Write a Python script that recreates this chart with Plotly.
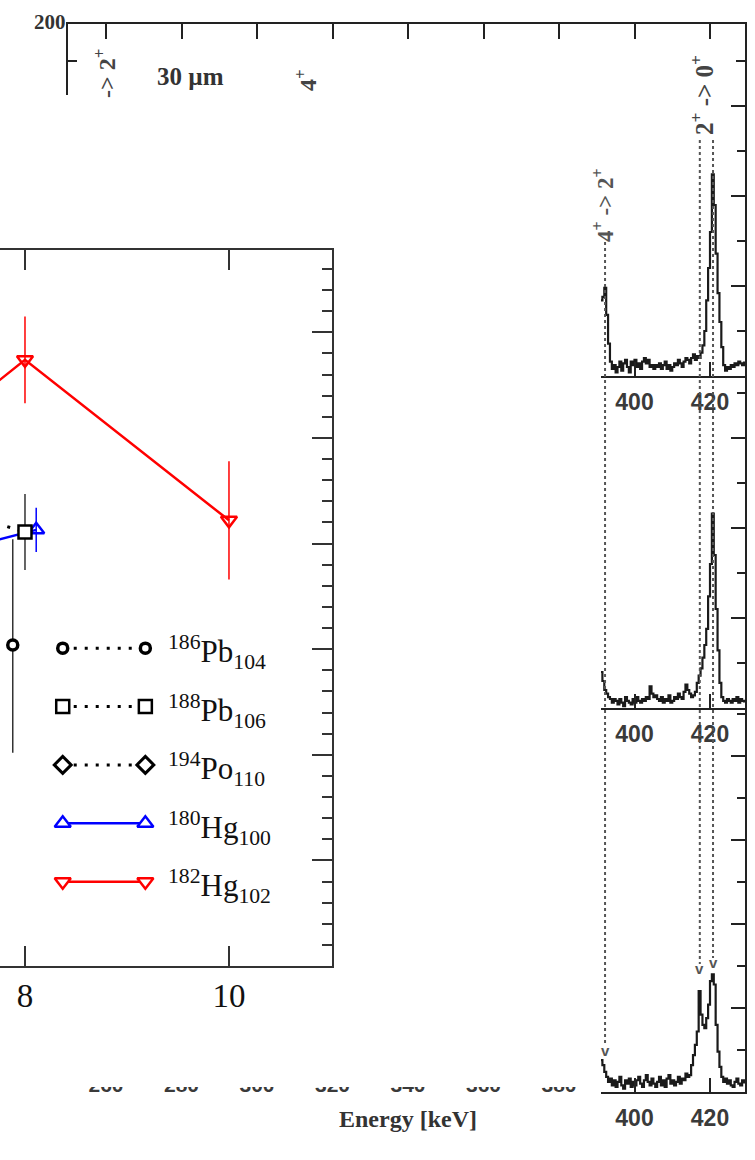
import plotly.graph_objects as go

W, H = 755, 1160
def fx(p):
    return p / W
def fy(p):
    return 1 - p / H

# ---------------- inset: data ----------------
hg182_x = [7.0, 8.0, 10.0]
hg182_y = [4.97, 5.74, 4.22]
hg182_err = [0.40, 0.41, 0.56]

hg180_x = [7.0, 8.11]
hg180_y = [3.85, 4.13]
hg180_err = [0.20, 0.21]

pb188_x = [7.0, 8.0]
pb188_y = [4.40, 4.11]
pb188_err = [0.30, 0.36]

pb186_x = [7.88]
pb186_y = [3.04]
pb186_err_plus = [1.00]
pb186_err_minus = [1.02]

po194_x = []
po194_y = []

inset_xticks = [8, 10]
legend_labels = ["<sup>186</sup>Pb<sub>104</sub>", "<sup>188</sup>Pb<sub>106</sub>",
                 "<sup>194</sup>Po<sub>110</sub>", "<sup>180</sup>Hg<sub>100</sub>",
                 "<sup>182</sup>Hg<sub>102</sub>"]

# ---------------- background spectra: data ----------------
bin_start, bin_width = 391.0, 0.5
counts_panel1 = [42, 44, 49, 34, 18, 8, 4, 6, 2, 5,
                 8, 3, 7, 9, 5, 2, 8, 6, 9, 5,
                 7, 4, 8, 10, 7, 9, 5, 6, 4, 6,
                 5, 7, 4, 6, 8, 4, 6, 3, 5, 7,
                 6, 9, 7, 5, 8, 10, 9, 7, 10, 12,
                 9, 11, 10, 13, 17, 25, 42, 60, 80, 112,
                 95, 68, 46, 30, 16, 6, 3, 5, 4, 6,
                 5, 7, 6, 8, 7, 6, 8]
counts_panel2 = [20, 15, 10, 8, 6, 5, 3, 5, 4, 2,
                 5, 3, 1, 6, 4, 3, 2, 5, 3, 6,
                 4, 3, 5, 4, 6, 5, 12, 8, 6, 7,
                 5, 4, 6, 3, 5, 4, 7, 3, 4, 6,
                 5, 8, 6, 5, 9, 13, 10, 8, 6, 7,
                 9, 14, 18, 22, 28, 35, 44, 62, 80, 108,
                 85, 55, 32, 14, 6, 4, 3, 5, 4, 3,
                 5, 4, 6, 3, 5, 4, 3]
counts_panel3 = [19, 16, 12, 9, 6, 8, 4, 7, 3, 6,
                 9, 4, 2, 7, 5, 8, 3, 6, 4, 7,
                 9, 5, 3, 7, 10, 6, 4, 8, 5, 3,
                 6, 9, 4, 7, 3, 8, 10, 5, 7, 4,
                 6, 9, 5, 8, 7, 11, 9, 10, 16, 22,
                 28, 36, 60, 46, 40, 38, 44, 52, 66, 70,
                 64, 40, 24, 15, 9, 6, 8, 5, 7, 4,
                 3, 6, 8, 5, 4, 7, 5]
energy_ticks_top = [260, 280, 300, 320, 340, 360, 380, 400, 420]
energy_labels_cut = [260, 280, 300, 320, 340, 360, 380]
strip_ticks = [400, 420]
line_energies = [392.2, 417.3, 420.8]
transition_labels = ["-&gt; 2<sup>+</sup>", "4<sup>+</sup>", "2<sup>+</sup> -&gt; 0<sup>+</sup>",
                     "4<sup>+</sup> -&gt; 2<sup>+</sup>"]

# ---------------- layout calibration ----------------
PX_PER_KEV = 75.5 / 20.0
def e_at(px):
    return 420 + (px - 710) / PX_PER_KEV
E_LEFT, E_RIGHT = e_at(68), e_at(745)
E_STRIP, E_CUT = e_at(601), e_at(600)

fig = go.Figure()

# ---------------- inset traces ----------------
RED, BLUE, BLK = "#ff0000", "#0000ff", "#000000"
DOTS = "3px,8px"

fig.add_trace(go.Scatter(x=hg182_x, y=hg182_y, mode="lines+markers", xaxis="x", yaxis="y",
    line=dict(color=RED, width=2.5),
    marker=dict(symbol="triangle-down-open", size=14, color=RED, line=dict(width=2.5, color=RED)),
    error_y=dict(type="data", array=hg182_err, color=RED, thickness=1.5, width=0)))
fig.add_trace(go.Scatter(x=hg180_x, y=hg180_y, mode="lines+markers", xaxis="x", yaxis="y",
    line=dict(color=BLUE, width=2.5),
    marker=dict(symbol="triangle-up-open", size=14, color=BLUE, line=dict(width=2.5, color=BLUE)),
    error_y=dict(type="data", array=hg180_err, color=BLUE, thickness=1.5, width=0)))
fig.add_trace(go.Scatter(x=pb188_x, y=pb188_y, mode="lines+markers", xaxis="x", yaxis="y",
    line=dict(color=BLK, width=3, dash=DOTS),
    marker=dict(symbol="square", size=13, color="white", line=dict(width=2.5, color=BLK)),
    error_y=dict(type="data", array=pb188_err, color="#333", thickness=1.5, width=0)))
fig.add_trace(go.Scatter(x=pb186_x, y=pb186_y, mode="lines+markers", xaxis="x", yaxis="y",
    line=dict(color=BLK, width=3, dash=DOTS),
    marker=dict(symbol="circle", size=10, color="white", line=dict(width=3.5, color=BLK)),
    error_y=dict(type="data", symmetric=False, array=pb186_err_plus, arrayminus=pb186_err_minus,
                 color="#333", thickness=1.5, width=0)))
fig.add_trace(go.Scatter(x=po194_x, y=po194_y, mode="lines+markers", xaxis="x", yaxis="y",
    line=dict(color=BLK, width=3, dash=DOTS),
    marker=dict(symbol="diamond", size=13, color="white", line=dict(width=3, color=BLK))))

# manual legend (positions in inset data units)
leg_x0, leg_x1, leg_tx = 8.37, 9.18, 9.38
leg_y0, leg_dy = 3.01, 0.553
leg_styles = [
    dict(symbol="circle", size=10, color=BLK, lw=3.5, dash=DOTS, width=3),
    dict(symbol="square", size=13, color=BLK, lw=2.5, dash=DOTS, width=3),
    dict(symbol="diamond", size=13, color=BLK, lw=3, dash=DOTS, width=3),
    dict(symbol="triangle-up", size=14, color=BLUE, lw=2.5, dash="solid", width=2.5),
    dict(symbol="triangle-down", size=14, color=RED, lw=2.5, dash="solid", width=2.5),
]
annotations = []
for i, (lab, st) in enumerate(zip(legend_labels, leg_styles)):
    yy = leg_y0 - i * leg_dy
    fig.add_trace(go.Scatter(x=[leg_x0, leg_x1], y=[yy, yy], mode="lines+markers",
        xaxis="x", yaxis="y",
        line=dict(color=st["color"], width=st["width"], dash=st["dash"]),
        marker=dict(symbol=st["symbol"], size=st["size"], color="white",
                    line=dict(width=st["lw"], color=st["color"]))))
    annotations.append(dict(x=leg_tx, y=yy - 0.04, xref="x", yref="y", text=lab, showarrow=False,
        xanchor="left", yanchor="middle",
        font=dict(family="Liberation Serif", size=31, color="#111")))

# ---------------- background spectrum traces ----------------
energies = [bin_start + bin_width * i for i in range(len(counts_panel1))]
for k, cts in enumerate([counts_panel1, counts_panel2, counts_panel3]):
    n = k + 3
    fig.add_trace(go.Scatter(x=energies, y=cts, mode="lines", line_shape="hv",
        xaxis=f"x{n}", yaxis=f"y{n}", line=dict(color="#1a1a1a", width=2.2)))

# cut (half hidden) energy tick labels at the bottom
fig.add_trace(go.Scatter(x=energy_labels_cut, y=[1.0] * len(energy_labels_cut), mode="text",
    text=[str(v) for v in energy_labels_cut], xaxis="x6", yaxis="y6", cliponaxis=True,
    textfont=dict(family="Liberation Sans", size=21, color="#3a3a3a", weight="bold")))

# ---------------- axes ----------------
AX = "#222222"
inset_x = dict(domain=[0, fx(332)], range=[7.755, 11.01], anchor="y",
    showline=True, linecolor="#333", linewidth=1.5, mirror="ticks",
    ticks="inside", ticklen=20, tickwidth=1.5, tickcolor="#333",
    tickvals=inset_xticks, tickfont=dict(family="Liberation Serif", size=33, color="#111"),
    showgrid=False, zeroline=False, ticklabelstandoff=0)
inset_y = dict(domain=[fy(966), fy(250)], range=[0, 6.78], anchor="x", side="right",
    showline=True, linecolor="#333", linewidth=1.5,
    ticks="inside", ticklen=20, tickwidth=1.5, tickcolor="#333", dtick=1, tick0=0,
    minor=dict(ticks="inside", ticklen=10, dtick=0.2, tick0=0, tickcolor="#333", tickwidth=1.5),
    showticklabels=False, showgrid=False, zeroline=False)

top_x = dict(domain=[fx(68), fx(745)], range=[E_LEFT, E_RIGHT], anchor="y2", side="top",
    showline=True, linecolor=AX, linewidth=2, ticks="inside", ticklen=15, tickwidth=2,
    tickcolor=AX, tickvals=energy_ticks_top, showticklabels=False, showgrid=False, zeroline=False)
top_y = dict(domain=[fy(95), fy(24)], range=[(376 - 95) * 25 / 45, (376 - 24) * 25 / 45],
    anchor="x2", showline=True, mirror="ticks", linecolor=AX, linewidth=2,
    ticks="inside", ticklen=14, tickwidth=2, tickcolor=AX, dtick=50, tick0=0,
    minor=dict(ticks="inside", ticklen=9, dtick=25, tick0=0, tickcolor=AX, tickwidth=2),
    showticklabels=False, showgrid=False, zeroline=False)

panels = [(95, 376, 25 / 45), (376, 708, 25 / 45), (708, 1092, 25 / 42)]
layout_axes = dict(xaxis=inset_x, yaxis=inset_y, xaxis2=top_x, yaxis2=top_y)
for k, (ytop, ybot, cpp) in enumerate(panels):
    n = k + 3
    layout_axes[f"xaxis{n}"] = dict(domain=[fx(601), fx(745)], range=[E_STRIP, E_RIGHT],
        anchor=f"y{n}", showline=True, linecolor=AX, linewidth=2, ticks="inside", ticklen=14,
        tickwidth=2, tickcolor=AX, tickvals=strip_ticks,
        tickfont=dict(family="Liberation Sans", size=23, color="#3a3a3a", weight="bold"),
        ticklabelstandoff=4, showgrid=False, zeroline=False)
    layout_axes[f"yaxis{n}"] = dict(domain=[fy(ybot), fy(ytop)], range=[0, (ybot - ytop) * cpp],
        anchor=f"x{n}", side="right", showline=True, linecolor=AX, linewidth=2,
        ticks="inside", ticklen=14, tickwidth=2, tickcolor=AX, dtick=50, tick0=0,
        minor=dict(ticks="inside", ticklen=8, dtick=25, tick0=0, tickcolor=AX, tickwidth=2),
        showticklabels=False, showgrid=False, zeroline=False)
layout_axes["xaxis6"] = dict(domain=[fx(68), fx(600)], range=[E_LEFT, E_CUT], anchor="y6",
    visible=False)
layout_axes["yaxis6"] = dict(domain=[fy(1099), fy(1087)], range=[0, 1], anchor="x6",
    visible=False)

# ---------------- texts of the background figure ----------------
SERIF = "Liberation Serif"
def txt(x, y, text, size, color="#333", xref="paper", angle=0):
    return dict(x=x, y=y, xref=xref, yref="paper", text=text, showarrow=False,
                xanchor="center", yanchor="middle", textangle=angle,
                font=dict(family=SERIF, size=size, color=color))

annotations += [
    txt(fx(50), fy(22), "<b>200</b>", 21),
    txt(fx(190), fy(76), "<b>30 µm</b>", 25),
    txt(e_at(105), fy(74), "<b>" + transition_labels[0] + "</b>", 24, "#444", "x2", -90),
    txt(e_at(306), fy(80), "<b>" + transition_labels[1] + "</b>", 24, "#444", "x2", -90),
    txt(e_at(702), fy(95), "<b>" + transition_labels[2] + "</b>", 25, "#444", "x2", -90),
    txt(e_at(603), fy(205), "<b>" + transition_labels[3] + "</b>", 23, "#555", "x2", -90),
    txt(fx(408), fy(1119), "<b>Energy [keV]</b>", 24),
]

# dotted transition lines with open arrow heads
line_spans = [(242, 1046), (140, 964), (140, 958)]
shapes = []
for e, (y0, y1) in zip(line_energies, line_spans):
    shapes.append(dict(type="line", xref="x5", yref="paper", x0=e, x1=e, y0=fy(y0), y1=fy(y1),
                       line=dict(color="#555", width=2, dash="dot")))
    annotations.append(dict(x=e, y=fy(y1 + 4), xref="x5", yref="paper", text="<b>v</b>",
                            showarrow=False, xanchor="center", yanchor="middle",
                            font=dict(family="Liberation Sans", size=15, color="#555")))

fig.update_layout(width=W, height=H, margin=dict(l=0, r=0, t=0, b=0),
                  paper_bgcolor="white", plot_bgcolor="white", showlegend=False,
                  annotations=annotations, shapes=shapes, **layout_axes)

fig.write_html("out.html")
